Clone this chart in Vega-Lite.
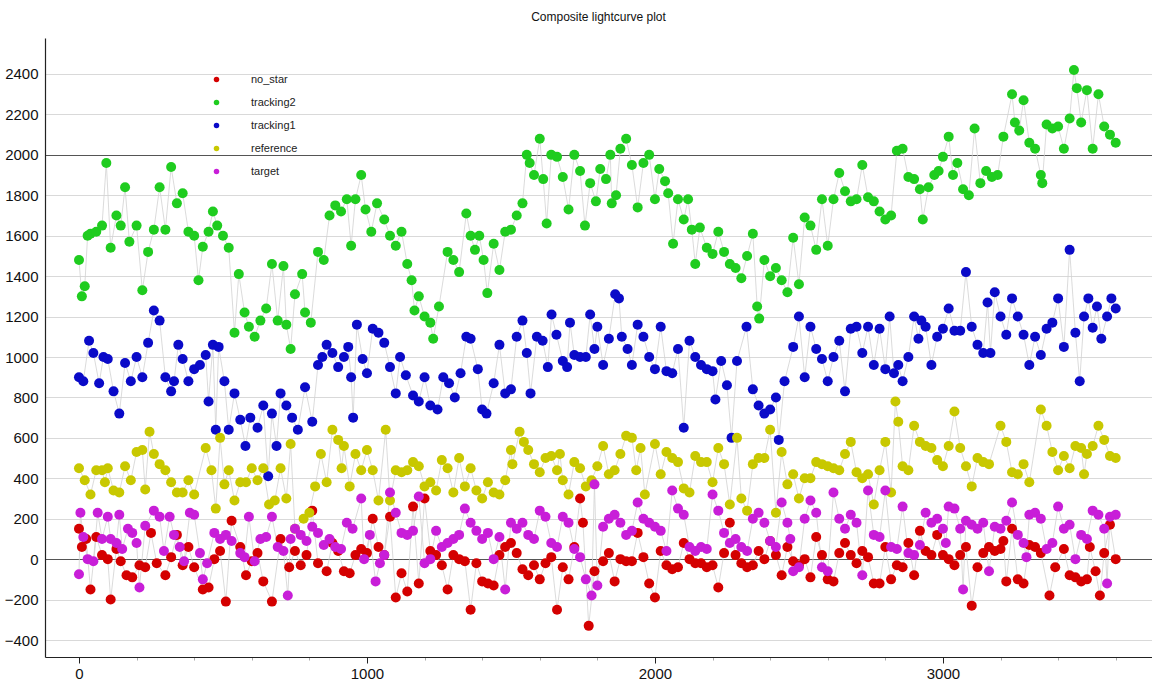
{
  "$schema": "https://vega.github.io/schema/vega-lite/v6.json",
  "title": {"text": "Composite lightcurve plot", "fontSize": 12, "fontWeight": "normal", "offset": 14, "color": "#111"},
  "autosize": "none",
  "padding": {"left": 45, "top": 38, "right": 0, "bottom": 26},
  "width": 1107,
  "height": 619,
  "datasets": {
    "no_star": [
      {"x":0,"y":150},{"x":10,"y":60},{"x":25,"y":100},{"x":40,"y":-150},{"x":60,"y":110},{"x":80,"y":20},{"x":100,"y":0},{"x":110,"y":-200},{"x":130,"y":50},{"x":145,"y":-10},{"x":165,"y":-80},{"x":185,"y":-90},{"x":210,"y":-30},{"x":230,"y":-40},{"x":250,"y":130},{"x":270,"y":-20},{"x":300,"y":-80},{"x":320,"y":10},{"x":340,"y":120},{"x":360,"y":-30},{"x":380,"y":60},{"x":400,"y":-40},{"x":430,"y":-150},{"x":450,"y":-140},{"x":470,"y":0},{"x":490,"y":40},{"x":510,"y":-210},{"x":530,"y":190},{"x":560,"y":60},{"x":580,"y":-80},{"x":600,"y":-10},{"x":620,"y":30},{"x":640,"y":-110},{"x":670,"y":-210},{"x":700,"y":100},{"x":730,"y":-40},{"x":750,"y":40},{"x":770,"y":-30},{"x":790,"y":20},{"x":810,"y":240},{"x":830,"y":-20},{"x":860,"y":-60},{"x":880,"y":80},{"x":900,"y":40},{"x":920,"y":-60},{"x":940,"y":-70},{"x":960,"y":20},{"x":980,"y":50},{"x":1000,"y":30},{"x":1020,"y":200},{"x":1040,"y":60},{"x":1060,"y":20},{"x":1080,"y":210},{"x":1100,"y":-190},{"x":1120,"y":-70},{"x":1140,"y":-160},{"x":1160,"y":260},{"x":1180,"y":-120},{"x":1200,"y":300},{"x":1220,"y":40},{"x":1240,"y":20},{"x":1260,"y":-30},{"x":1280,"y":-150},{"x":1300,"y":20},{"x":1320,"y":0},{"x":1340,"y":-10},{"x":1360,"y":-250},{"x":1380,"y":-20},{"x":1400,"y":-110},{"x":1420,"y":-120},{"x":1440,"y":-130},{"x":1460,"y":20},{"x":1480,"y":60},{"x":1500,"y":80},{"x":1520,"y":30},{"x":1540,"y":-50},{"x":1560,"y":-80},{"x":1580,"y":-30},{"x":1600,"y":-100},{"x":1620,"y":-20},{"x":1640,"y":10},{"x":1660,"y":-250},{"x":1680,"y":-40},{"x":1700,"y":-100},{"x":1720,"y":60},{"x":1740,"y":300},{"x":1750,"y":180},{"x":1770,"y":-330},{"x":1790,"y":-60},{"x":1820,"y":-10},{"x":1840,"y":30},{"x":1860,"y":-110},{"x":1880,"y":0},{"x":1900,"y":-10},{"x":1920,"y":-10},{"x":1940,"y":130},{"x":1960,"y":10},{"x":1980,"y":-120},{"x":2000,"y":-190},{"x":2020,"y":40},{"x":2040,"y":-30},{"x":2060,"y":-50},{"x":2080,"y":-40},{"x":2100,"y":80},{"x":2120,"y":0},{"x":2140,"y":-20},{"x":2160,"y":-20},{"x":2180,"y":-40},{"x":2200,"y":-30},{"x":2220,"y":-140},{"x":2240,"y":30},{"x":2260,"y":180},{"x":2280,"y":20},{"x":2300,"y":-20},{"x":2320,"y":-40},{"x":2340,"y":-30},{"x":2360,"y":40},{"x":2380,"y":0},{"x":2400,"y":90},{"x":2420,"y":20},{"x":2440,"y":-80},{"x":2460,"y":60},{"x":2480,"y":-10},{"x":2500,"y":-30},{"x":2520,"y":0},{"x":2540,"y":-90},{"x":2560,"y":110},{"x":2580,"y":20},{"x":2600,"y":-100},{"x":2620,"y":-110},{"x":2640,"y":30},{"x":2660,"y":80},{"x":2680,"y":20},{"x":2700,"y":-20},{"x":2720,"y":40},{"x":2740,"y":10},{"x":2760,"y":-120},{"x":2780,"y":-120},{"x":2800,"y":60},{"x":2820,"y":-100},{"x":2840,"y":-30},{"x":2860,"y":-40},{"x":2880,"y":80},{"x":2900,"y":-80},{"x":2920,"y":140},{"x":2940,"y":40},{"x":2960,"y":20},{"x":2980,"y":120},{"x":3000,"y":20},{"x":3020,"y":0},{"x":3040,"y":-30},{"x":3060,"y":20},{"x":3080,"y":60},{"x":3100,"y":-230},{"x":3120,"y":-40},{"x":3140,"y":30},{"x":3160,"y":60},{"x":3180,"y":40},{"x":3200,"y":50},{"x":3210,"y":90},{"x":3220,"y":-110},{"x":3240,"y":150},{"x":3260,"y":-100},{"x":3280,"y":-120},{"x":3300,"y":70},{"x":3320,"y":60},{"x":3340,"y":30},{"x":3370,"y":-180},{"x":3390,"y":-40},{"x":3420,"y":50},{"x":3440,"y":-80},{"x":3460,"y":-90},{"x":3480,"y":-110},{"x":3500,"y":-100},{"x":3510,"y":60},{"x":3530,"y":-60},{"x":3545,"y":-180},{"x":3560,"y":30},{"x":3580,"y":170},{"x":3600,"y":0}
    ],
    "tracking2": [
      {"x":0,"y":1480},{"x":10,"y":1300},{"x":20,"y":1350},{"x":30,"y":1600},{"x":40,"y":1610},{"x":60,"y":1620},{"x":80,"y":1650},{"x":95,"y":1960},{"x":110,"y":1540},{"x":130,"y":1700},{"x":145,"y":1650},{"x":160,"y":1840},{"x":175,"y":1570},{"x":200,"y":1650},{"x":220,"y":1330},{"x":240,"y":1520},{"x":260,"y":1630},{"x":280,"y":1840},{"x":300,"y":1630},{"x":320,"y":1940},{"x":340,"y":1760},{"x":360,"y":1810},{"x":380,"y":1620},{"x":400,"y":1600},{"x":415,"y":1380},{"x":430,"y":1545},{"x":450,"y":1620},{"x":465,"y":1720},{"x":480,"y":1650},{"x":500,"y":1600},{"x":520,"y":1540},{"x":540,"y":1120},{"x":555,"y":1410},{"x":575,"y":1220},{"x":590,"y":1150},{"x":610,"y":1100},{"x":630,"y":1180},{"x":650,"y":1240},{"x":670,"y":1460},{"x":690,"y":1180},{"x":710,"y":1450},{"x":720,"y":1160},{"x":735,"y":1040},{"x":750,"y":1310},{"x":775,"y":1410},{"x":785,"y":1220},{"x":805,"y":1170},{"x":830,"y":1520},{"x":850,"y":1480},{"x":870,"y":1700},{"x":890,"y":1750},{"x":910,"y":1720},{"x":930,"y":1780},{"x":945,"y":1550},{"x":960,"y":1780},{"x":980,"y":1900},{"x":995,"y":1730},{"x":1015,"y":1620},{"x":1035,"y":1760},{"x":1060,"y":1680},{"x":1080,"y":1600},{"x":1100,"y":1550},{"x":1120,"y":1620},{"x":1140,"y":1460},{"x":1155,"y":1380},{"x":1165,"y":1230},{"x":1180,"y":1300},{"x":1200,"y":1200},{"x":1220,"y":1170},{"x":1230,"y":1090},{"x":1250,"y":1250},{"x":1280,"y":1520},{"x":1300,"y":1480},{"x":1320,"y":1420},{"x":1345,"y":1710},{"x":1360,"y":1600},{"x":1375,"y":1530},{"x":1390,"y":1600},{"x":1405,"y":1480},{"x":1418,"y":1316},{"x":1440,"y":1560},{"x":1460,"y":1430},{"x":1480,"y":1620},{"x":1500,"y":1630},{"x":1520,"y":1700},{"x":1540,"y":1760},{"x":1555,"y":2000},{"x":1565,"y":1960},{"x":1580,"y":1900},{"x":1600,"y":2080},{"x":1612,"y":1880},{"x":1624,"y":1660},{"x":1640,"y":2000},{"x":1660,"y":1990},{"x":1680,"y":1890},{"x":1700,"y":1730},{"x":1720,"y":2000},{"x":1740,"y":1920},{"x":1757,"y":1650},{"x":1775,"y":1860},{"x":1795,"y":1770},{"x":1810,"y":1930},{"x":1830,"y":1880},{"x":1845,"y":2000},{"x":1850,"y":1760},{"x":1865,"y":1800},{"x":1880,"y":2030},{"x":1900,"y":2080},{"x":1920,"y":1950},{"x":1940,"y":1740},{"x":1960,"y":1960},{"x":1980,"y":2000},{"x":2000,"y":1780},{"x":2015,"y":1930},{"x":2035,"y":1870},{"x":2046,"y":1810},{"x":2063,"y":1560},{"x":2080,"y":1780},{"x":2100,"y":1680},{"x":2115,"y":1780},{"x":2128,"y":1630},{"x":2140,"y":1460},{"x":2156,"y":1640},{"x":2180,"y":1540},{"x":2200,"y":1510},{"x":2220,"y":1620},{"x":2240,"y":1520},{"x":2260,"y":1460},{"x":2280,"y":1440},{"x":2300,"y":1390},{"x":2320,"y":1500},{"x":2340,"y":1610},{"x":2355,"y":1250},{"x":2362,"y":1190},{"x":2380,"y":1480},{"x":2400,"y":1400},{"x":2420,"y":1440},{"x":2440,"y":1380},{"x":2460,"y":1320},{"x":2480,"y":1590},{"x":2500,"y":1360},{"x":2520,"y":1690},{"x":2540,"y":1650},{"x":2560,"y":1530},{"x":2580,"y":1780},{"x":2600,"y":1550},{"x":2620,"y":1780},{"x":2640,"y":1910},{"x":2660,"y":1820},{"x":2680,"y":1770},{"x":2700,"y":1780},{"x":2720,"y":1950},{"x":2740,"y":1790},{"x":2760,"y":1770},{"x":2780,"y":1720},{"x":2800,"y":1680},{"x":2820,"y":1700},{"x":2840,"y":2020},{"x":2860,"y":2030},{"x":2880,"y":1890},{"x":2900,"y":1880},{"x":2920,"y":1830},{"x":2930,"y":1680},{"x":2950,"y":1840},{"x":2970,"y":1900},{"x":2985,"y":1920},{"x":3000,"y":1990},{"x":3020,"y":2090},{"x":3035,"y":1900},{"x":3050,"y":1960},{"x":3070,"y":1830},{"x":3090,"y":1800},{"x":3110,"y":2130},{"x":3130,"y":1860},{"x":3150,"y":1920},{"x":3170,"y":1890},{"x":3190,"y":1900},{"x":3210,"y":2090},{"x":3240,"y":2300},{"x":3250,"y":2160},{"x":3265,"y":2120},{"x":3280,"y":2270},{"x":3300,"y":2060},{"x":3320,"y":2030},{"x":3340,"y":1900},{"x":3345,"y":1860},{"x":3360,"y":2150},{"x":3380,"y":2130},{"x":3400,"y":2140},{"x":3420,"y":2030},{"x":3440,"y":2180},{"x":3455,"y":2420},{"x":3465,"y":2330},{"x":3480,"y":2160},{"x":3500,"y":2320},{"x":3520,"y":2030},{"x":3540,"y":2300},{"x":3560,"y":2140},{"x":3580,"y":2100},{"x":3600,"y":2060}
    ],
    "tracking1": [
      {"x":0,"y":900},{"x":15,"y":880},{"x":35,"y":1080},{"x":50,"y":1020},{"x":70,"y":870},{"x":85,"y":1000},{"x":100,"y":990},{"x":120,"y":830},{"x":140,"y":720},{"x":160,"y":970},{"x":180,"y":880},{"x":200,"y":1000},{"x":220,"y":900},{"x":240,"y":1070},{"x":260,"y":1230},{"x":280,"y":1180},{"x":300,"y":900},{"x":320,"y":830},{"x":330,"y":880},{"x":345,"y":1060},{"x":360,"y":990},{"x":380,"y":880},{"x":400,"y":940},{"x":420,"y":960},{"x":440,"y":1010},{"x":450,"y":780},{"x":465,"y":1060},{"x":475,"y":640},{"x":485,"y":1050},{"x":505,"y":880},{"x":520,"y":640},{"x":540,"y":820},{"x":560,"y":690},{"x":578,"y":560},{"x":595,"y":700},{"x":620,"y":650},{"x":640,"y":760},{"x":657,"y":410},{"x":670,"y":720},{"x":686,"y":560},{"x":700,"y":820},{"x":720,"y":760},{"x":740,"y":700},{"x":760,"y":640},{"x":785,"y":850},{"x":810,"y":680},{"x":830,"y":960},{"x":845,"y":1000},{"x":860,"y":1060},{"x":880,"y":1020},{"x":900,"y":950},{"x":920,"y":1000},{"x":935,"y":1050},{"x":945,"y":900},{"x":952,"y":700},{"x":965,"y":1160},{"x":985,"y":990},{"x":1000,"y":920},{"x":1020,"y":1140},{"x":1040,"y":1120},{"x":1060,"y":1070},{"x":1080,"y":950},{"x":1100,"y":820},{"x":1115,"y":1000},{"x":1135,"y":910},{"x":1160,"y":810},{"x":1180,"y":780},{"x":1200,"y":900},{"x":1220,"y":760},{"x":1245,"y":740},{"x":1265,"y":900},{"x":1285,"y":870},{"x":1305,"y":800},{"x":1325,"y":920},{"x":1345,"y":1100},{"x":1360,"y":1090},{"x":1385,"y":940},{"x":1400,"y":740},{"x":1415,"y":720},{"x":1440,"y":870},{"x":1460,"y":1060},{"x":1480,"y":820},{"x":1500,"y":840},{"x":1520,"y":1100},{"x":1540,"y":1180},{"x":1555,"y":1020},{"x":1568,"y":820},{"x":1590,"y":1100},{"x":1610,"y":1080},{"x":1628,"y":950},{"x":1641,"y":1210},{"x":1658,"y":1110},{"x":1680,"y":980},{"x":1695,"y":950},{"x":1705,"y":1170},{"x":1720,"y":1010},{"x":1740,"y":1000},{"x":1760,"y":1000},{"x":1775,"y":1210},{"x":1790,"y":1040},{"x":1800,"y":1150},{"x":1820,"y":960},{"x":1840,"y":1090},{"x":1862,"y":1310},{"x":1875,"y":1290},{"x":1885,"y":1100},{"x":1905,"y":1040},{"x":1920,"y":960},{"x":1940,"y":1160},{"x":1960,"y":1100},{"x":1980,"y":1000},{"x":2000,"y":940},{"x":2020,"y":1150},{"x":2040,"y":930},{"x":2060,"y":920},{"x":2080,"y":1040},{"x":2100,"y":650},{"x":2120,"y":1080},{"x":2140,"y":1000},{"x":2160,"y":960},{"x":2180,"y":940},{"x":2200,"y":930},{"x":2210,"y":790},{"x":2230,"y":980},{"x":2250,"y":860},{"x":2266,"y":600},{"x":2285,"y":980},{"x":2318,"y":1150},{"x":2340,"y":840},{"x":2360,"y":760},{"x":2380,"y":720},{"x":2400,"y":740},{"x":2420,"y":800},{"x":2430,"y":590},{"x":2450,"y":880},{"x":2480,"y":1050},{"x":2500,"y":1200},{"x":2520,"y":900},{"x":2540,"y":1150},{"x":2560,"y":1040},{"x":2580,"y":990},{"x":2600,"y":880},{"x":2620,"y":1000},{"x":2640,"y":1080},{"x":2660,"y":830},{"x":2680,"y":1140},{"x":2700,"y":1150},{"x":2720,"y":1020},{"x":2740,"y":1150},{"x":2760,"y":960},{"x":2780,"y":1140},{"x":2800,"y":940},{"x":2815,"y":1200},{"x":2830,"y":920},{"x":2845,"y":960},{"x":2860,"y":880},{"x":2880,"y":1000},{"x":2900,"y":1200},{"x":2915,"y":1090},{"x":2925,"y":1180},{"x":2940,"y":1150},{"x":2960,"y":960},{"x":2980,"y":1100},{"x":3000,"y":1140},{"x":3020,"y":1240},{"x":3040,"y":1130},{"x":3060,"y":1130},{"x":3080,"y":1420},{"x":3100,"y":1150},{"x":3120,"y":1060},{"x":3140,"y":1020},{"x":3155,"y":1270},{"x":3165,"y":1020},{"x":3180,"y":1320},{"x":3200,"y":1200},{"x":3220,"y":1110},{"x":3240,"y":1290},{"x":3260,"y":1200},{"x":3280,"y":1110},{"x":3300,"y":960},{"x":3320,"y":1100},{"x":3340,"y":1010},{"x":3360,"y":1140},{"x":3380,"y":1170},{"x":3400,"y":1290},{"x":3420,"y":1050},{"x":3440,"y":1530},{"x":3460,"y":1120},{"x":3475,"y":880},{"x":3490,"y":1200},{"x":3505,"y":1290},{"x":3520,"y":1145},{"x":3535,"y":1250},{"x":3550,"y":1090},{"x":3570,"y":1200},{"x":3585,"y":1290},{"x":3600,"y":1240}
    ],
    "reference": [
      {"x":0,"y":450},{"x":20,"y":390},{"x":40,"y":320},{"x":60,"y":440},{"x":80,"y":440},{"x":90,"y":380},{"x":100,"y":450},{"x":120,"y":340},{"x":140,"y":330},{"x":160,"y":460},{"x":180,"y":390},{"x":200,"y":530},{"x":220,"y":540},{"x":230,"y":345},{"x":245,"y":630},{"x":260,"y":520},{"x":280,"y":470},{"x":300,"y":440},{"x":320,"y":380},{"x":340,"y":330},{"x":360,"y":330},{"x":380,"y":390},{"x":400,"y":320},{"x":440,"y":550},{"x":460,"y":440},{"x":475,"y":250},{"x":490,"y":600},{"x":505,"y":370},{"x":520,"y":440},{"x":540,"y":290},{"x":560,"y":380},{"x":580,"y":380},{"x":600,"y":450},{"x":620,"y":390},{"x":640,"y":450},{"x":660,"y":270},{"x":680,"y":290},{"x":700,"y":450},{"x":720,"y":300},{"x":735,"y":570},{"x":750,"y":150},{"x":780,"y":200},{"x":800,"y":230},{"x":820,"y":360},{"x":840,"y":520},{"x":860,"y":380},{"x":880,"y":640},{"x":900,"y":590},{"x":912,"y":450},{"x":920,"y":560},{"x":940,"y":360},{"x":960,"y":520},{"x":980,"y":440},{"x":1000,"y":540},{"x":1020,"y":440},{"x":1040,"y":290},{"x":1065,"y":640},{"x":1080,"y":290},{"x":1100,"y":440},{"x":1120,"y":430},{"x":1140,"y":440},{"x":1160,"y":480},{"x":1180,"y":460},{"x":1200,"y":360},{"x":1220,"y":380},{"x":1240,"y":340},{"x":1260,"y":490},{"x":1280,"y":450},{"x":1300,"y":330},{"x":1320,"y":500},{"x":1340,"y":360},{"x":1360,"y":450},{"x":1380,"y":340},{"x":1400,"y":300},{"x":1420,"y":380},{"x":1440,"y":330},{"x":1460,"y":320},{"x":1480,"y":390},{"x":1500,"y":540},{"x":1505,"y":470},{"x":1530,"y":630},{"x":1545,"y":580},{"x":1560,"y":540},{"x":1580,"y":470},{"x":1600,"y":430},{"x":1620,"y":500},{"x":1640,"y":510},{"x":1660,"y":440},{"x":1670,"y":520},{"x":1680,"y":390},{"x":1700,"y":320},{"x":1720,"y":480},{"x":1740,"y":450},{"x":1760,"y":360},{"x":1780,"y":390},{"x":1800,"y":460},{"x":1820,"y":560},{"x":1840,"y":420},{"x":1860,"y":440},{"x":1880,"y":520},{"x":1900,"y":610},{"x":1920,"y":600},{"x":1935,"y":440},{"x":1950,"y":550},{"x":1965,"y":320},{"x":2000,"y":570},{"x":2020,"y":420},{"x":2040,"y":530},{"x":2060,"y":500},{"x":2080,"y":480},{"x":2100,"y":350},{"x":2120,"y":330},{"x":2140,"y":510},{"x":2160,"y":480},{"x":2180,"y":480},{"x":2200,"y":380},{"x":2220,"y":550},{"x":2240,"y":470},{"x":2260,"y":270},{"x":2285,"y":600},{"x":2300,"y":300},{"x":2320,"y":240},{"x":2340,"y":470},{"x":2360,"y":500},{"x":2380,"y":500},{"x":2400,"y":640},{"x":2420,"y":230},{"x":2440,"y":530},{"x":2460,"y":370},{"x":2480,"y":420},{"x":2500,"y":300},{"x":2520,"y":400},{"x":2540,"y":400},{"x":2560,"y":480},{"x":2580,"y":470},{"x":2600,"y":460},{"x":2620,"y":450},{"x":2640,"y":440},{"x":2660,"y":520},{"x":2680,"y":580},{"x":2700,"y":430},{"x":2720,"y":400},{"x":2740,"y":420},{"x":2760,"y":270},{"x":2780,"y":440},{"x":2800,"y":580},{"x":2820,"y":330},{"x":2835,"y":780},{"x":2845,"y":680},{"x":2860,"y":460},{"x":2880,"y":440},{"x":2900,"y":660},{"x":2920,"y":580},{"x":2940,"y":560},{"x":2960,"y":550},{"x":2980,"y":490},{"x":3000,"y":460},{"x":3020,"y":560},{"x":3040,"y":730},{"x":3060,"y":550},{"x":3080,"y":460},{"x":3100,"y":360},{"x":3120,"y":500},{"x":3140,"y":480},{"x":3160,"y":470},{"x":3200,"y":660},{"x":3220,"y":580},{"x":3240,"y":430},{"x":3260,"y":420},{"x":3280,"y":470},{"x":3300,"y":380},{"x":3340,"y":740},{"x":3360,"y":660},{"x":3380,"y":530},{"x":3400,"y":440},{"x":3420,"y":510},{"x":3440,"y":450},{"x":3460,"y":560},{"x":3480,"y":550},{"x":3490,"y":420},{"x":3500,"y":520},{"x":3520,"y":560},{"x":3540,"y":660},{"x":3560,"y":590},{"x":3580,"y":510},{"x":3600,"y":500}
    ],
    "target": [
      {"x":0,"y":-75},{"x":5,"y":230},{"x":15,"y":110},{"x":30,"y":0},{"x":50,"y":-10},{"x":65,"y":230},{"x":80,"y":100},{"x":100,"y":210},{"x":110,"y":100},{"x":130,"y":80},{"x":140,"y":220},{"x":150,"y":50},{"x":170,"y":150},{"x":185,"y":130},{"x":200,"y":80},{"x":210,"y":-140},{"x":230,"y":165},{"x":260,"y":240},{"x":280,"y":210},{"x":295,"y":40},{"x":315,"y":210},{"x":330,"y":120},{"x":350,"y":60},{"x":365,"y":-10},{"x":385,"y":230},{"x":400,"y":220},{"x":420,"y":30},{"x":430,"y":-100},{"x":445,"y":-20},{"x":470,"y":130},{"x":490,"y":100},{"x":510,"y":120},{"x":530,"y":90},{"x":560,"y":30},{"x":575,"y":10},{"x":590,"y":210},{"x":610,"y":-10},{"x":630,"y":100},{"x":650,"y":110},{"x":670,"y":210},{"x":690,"y":60},{"x":710,"y":40},{"x":725,"y":-180},{"x":735,"y":100},{"x":750,"y":150},{"x":770,"y":120},{"x":790,"y":90},{"x":810,"y":160},{"x":830,"y":130},{"x":850,"y":70},{"x":870,"y":100},{"x":890,"y":60},{"x":910,"y":50},{"x":930,"y":180},{"x":950,"y":150},{"x":980,"y":300},{"x":990,"y":0},{"x":1010,"y":120},{"x":1030,"y":-110},{"x":1045,"y":-20},{"x":1060,"y":20},{"x":1080,"y":330},{"x":1100,"y":230},{"x":1120,"y":130},{"x":1140,"y":120},{"x":1160,"y":140},{"x":1180,"y":310},{"x":1200,"y":-20},{"x":1220,"y":0},{"x":1240,"y":140},{"x":1260,"y":60},{"x":1280,"y":80},{"x":1300,"y":100},{"x":1320,"y":120},{"x":1340,"y":250},{"x":1360,"y":180},{"x":1380,"y":140},{"x":1400,"y":100},{"x":1420,"y":130},{"x":1440,"y":0},{"x":1460,"y":110},{"x":1480,"y":-150},{"x":1500,"y":180},{"x":1520,"y":150},{"x":1540,"y":180},{"x":1560,"y":120},{"x":1580,"y":100},{"x":1600,"y":240},{"x":1620,"y":210},{"x":1640,"y":80},{"x":1660,"y":60},{"x":1680,"y":210},{"x":1700,"y":180},{"x":1720,"y":50},{"x":1740,"y":10},{"x":1760,"y":-100},{"x":1780,"y":-180},{"x":1790,"y":370},{"x":1800,"y":-130},{"x":1820,"y":160},{"x":1840,"y":200},{"x":1860,"y":220},{"x":1880,"y":180},{"x":1900,"y":120},{"x":1920,"y":140},{"x":1940,"y":280},{"x":1960,"y":200},{"x":1980,"y":180},{"x":2000,"y":160},{"x":2020,"y":140},{"x":2040,"y":40},{"x":2060,"y":340},{"x":2080,"y":250},{"x":2100,"y":220},{"x":2120,"y":60},{"x":2140,"y":40},{"x":2160,"y":60},{"x":2180,"y":50},{"x":2200,"y":320},{"x":2220,"y":240},{"x":2240,"y":130},{"x":2260,"y":80},{"x":2280,"y":100},{"x":2300,"y":60},{"x":2320,"y":40},{"x":2340,"y":200},{"x":2360,"y":230},{"x":2380,"y":180},{"x":2400,"y":90},{"x":2420,"y":60},{"x":2440,"y":280},{"x":2460,"y":180},{"x":2470,"y":100},{"x":2480,"y":-60},{"x":2500,"y":-40},{"x":2520,"y":200},{"x":2540,"y":290},{"x":2560,"y":230},{"x":2580,"y":-40},{"x":2600,"y":-60},{"x":2620,"y":330},{"x":2640,"y":200},{"x":2660,"y":150},{"x":2680,"y":220},{"x":2700,"y":180},{"x":2720,"y":-80},{"x":2740,"y":340},{"x":2760,"y":120},{"x":2780,"y":110},{"x":2800,"y":340},{"x":2820,"y":60},{"x":2840,"y":50},{"x":2860,"y":260},{"x":2880,"y":30},{"x":2900,"y":20},{"x":2920,"y":70},{"x":2940,"y":230},{"x":2960,"y":180},{"x":2980,"y":200},{"x":3000,"y":150},{"x":3010,"y":80},{"x":3020,"y":260},{"x":3040,"y":250},{"x":3060,"y":150},{"x":3070,"y":-150},{"x":3080,"y":190},{"x":3100,"y":170},{"x":3120,"y":150},{"x":3140,"y":180},{"x":3160,"y":-60},{"x":3180,"y":160},{"x":3200,"y":150},{"x":3220,"y":190},{"x":3240,"y":280},{"x":3260,"y":120},{"x":3280,"y":80},{"x":3290,"y":10},{"x":3300,"y":220},{"x":3320,"y":230},{"x":3340,"y":200},{"x":3360,"y":50},{"x":3380,"y":80},{"x":3400,"y":260},{"x":3420,"y":150},{"x":3440,"y":170},{"x":3460,"y":0},{"x":3480,"y":120},{"x":3500,"y":100},{"x":3520,"y":240},{"x":3540,"y":220},{"x":3560,"y":150},{"x":3570,"y":-120},{"x":3580,"y":210},{"x":3600,"y":220}
    ]
  },
  "encoding": {
    "x": {
      "field": "x",
      "type": "quantitative",
      "scale": {"domain": [-118, 3726], "nice": false, "zero": false},
      "axis": {
        "title": null,
        "grid": false,
        "values": [0,200,400,600,800,1000,1200,1400,1600,1800,2000,2200,2400,2600,2800,3000,3200,3400,3600],
        "format": "d",
        "labelExpr": "datum.value % 1000 === 0 ? datum.label : ''",
        "tickSize": {"condition": {"test": "datum.value % 1000 === 0", "value": 6}, "value": 3},
        "tickColor": {"condition": {"test": "datum.value % 1000 === 0", "value": "#222"}, "value": "#aaa"},
        "labelOverlap": false,
        "labelFlush": false,
        "labelPadding": 3,
        "labelFontSize": 15,
        "labelColor": "#111",
        "domainColor": "#222",
        "domainWidth": 1.2
      }
    },
    "y": {
      "field": "y",
      "type": "quantitative",
      "scale": {"domain": [-484, 2578], "nice": false, "zero": false},
      "axis": {
        "title": null,
        "values": [-400,-200,0,200,400,600,800,1000,1200,1400,1600,1800,2000,2200,2400],
        "format": "d",
        "ticks": false,
        "labelPadding": 7,
        "labelFontSize": 15,
        "labelColor": "#111",
        "domainColor": "#222",
        "domainWidth": 1.2,
        "gridColor": {"condition": {"test": "datum.value === 0 || datum.value === 2000", "value": "#555"}, "value": "#d9d9d9"},
        "gridWidth": 1
      }
    }
  },
  "layer": [
    {"data": {"name": "no_star"}, "mark": {"type": "line", "color": "#d2d2d2", "strokeWidth": 0.8}, "encoding": {}},
    {"data": {"name": "tracking2"}, "mark": {"type": "line", "color": "#d2d2d2", "strokeWidth": 0.8}, "encoding": {}},
    {"data": {"name": "tracking1"}, "mark": {"type": "line", "color": "#d2d2d2", "strokeWidth": 0.8}, "encoding": {}},
    {"data": {"name": "reference"}, "mark": {"type": "line", "color": "#d2d2d2", "strokeWidth": 0.8}, "encoding": {}},
    {"data": {"name": "target"}, "mark": {"type": "line", "color": "#d2d2d2", "strokeWidth": 0.8}, "encoding": {}},
    {"data": {"name": "no_star"}, "mark": {"type": "circle", "size": 100, "opacity": 1},
     "encoding": {"color": {"datum": "no_star", "type": "nominal",
       "scale": {"domain": ["no_star", "tracking2", "tracking1", "reference", "target"], "range": ["#d40000", "#1fcc1f", "#0a0ac8", "#c8c800", "#c81ed8"]},
       "legend": {"title": null, "symbolSize": 30}}}},
    {"data": {"name": "tracking2"}, "mark": {"type": "circle", "size": 100, "opacity": 1},
     "encoding": {"color": {"datum": "tracking2", "type": "nominal"}}},
    {"data": {"name": "tracking1"}, "mark": {"type": "circle", "size": 100, "opacity": 1},
     "encoding": {"color": {"datum": "tracking1", "type": "nominal"}}},
    {"data": {"name": "reference"}, "mark": {"type": "circle", "size": 100, "opacity": 1},
     "encoding": {"color": {"datum": "reference", "type": "nominal"}}},
    {"data": {"name": "target"}, "mark": {"type": "circle", "size": 100, "opacity": 1},
     "encoding": {"color": {"datum": "target", "type": "nominal"}}}
  ],
  "config": {
    "view": {"stroke": null},
    "font": "Liberation Sans",
    "legend": {
      "orient": "none",
      "legendX": 166,
      "legendY": 36,
      "symbolType": "circle",
      "symbolSize": 30,
      "labelFontSize": 11,
      "labelOffset": 29,
      "rowPadding": 11,
      "padding": 0,
      "labelColor": "#222"
    }
  }
}
